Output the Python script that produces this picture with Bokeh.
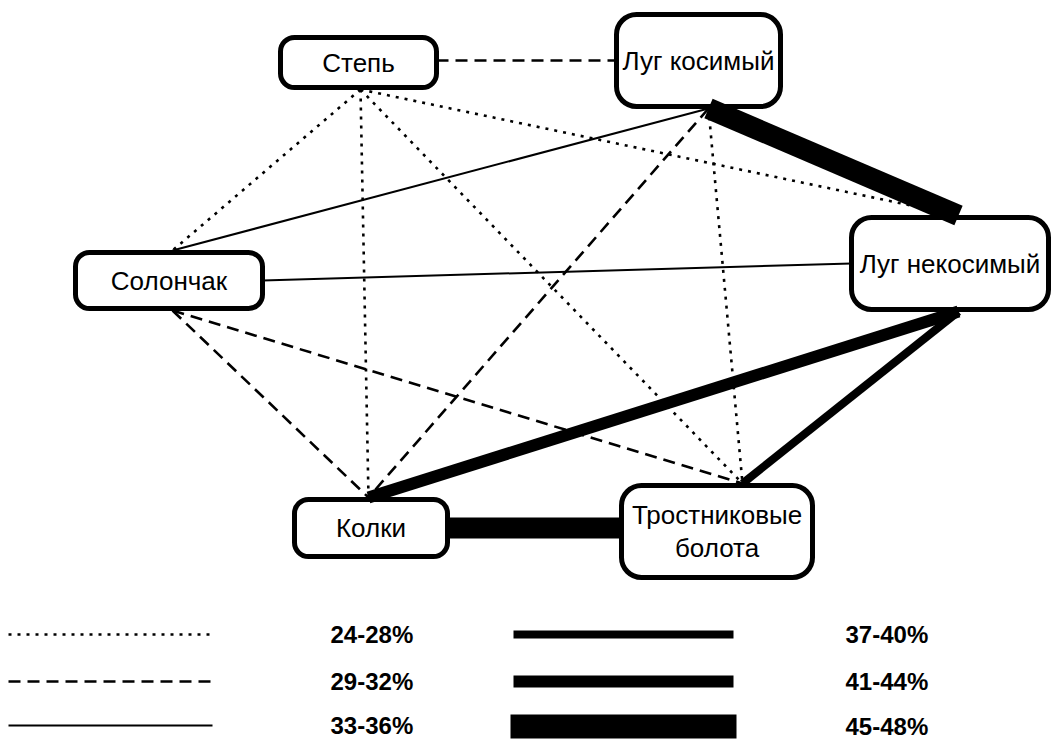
from bokeh.plotting import figure
from bokeh.models import Range1d, ColumnDataSource
from bokeh.embed import file_html
from bokeh.resources import INLINE
from bokeh.core.properties import value

# ---------------- data ----------------
nodes = ["Степь", "Луг косимый", "Солончак", "Луг некосимый", "Колки", "Тростниковые болота"]
node_labels = ["Степь", "Луг косимый", "Солончак", "Луг некосимый", "Колки", "Тростниковые\nболота"]

edge_source = ["Степь", "Степь", "Степь", "Степь", "Степь",
               "Луг косимый", "Луг косимый", "Луг косимый", "Луг косимый",
               "Солончак", "Солончак", "Солончак",
               "Луг некосимый", "Луг некосимый",
               "Колки"]
edge_target = ["Луг косимый", "Солончак", "Колки", "Тростниковые болота", "Луг некосимый",
               "Солончак", "Луг некосимый", "Колки", "Тростниковые болота",
               "Луг некосимый", "Колки", "Тростниковые болота",
               "Колки", "Тростниковые болота",
               "Тростниковые болота"]
edge_band = ["29-32%", "24-28%", "24-28%", "24-28%", "24-28%",
             "33-36%", "45-48%", "29-32%", "24-28%",
             "33-36%", "29-32%", "29-32%",
             "41-44%", "37-40%",
             "45-48%"]

bands = ["24-28%", "29-32%", "33-36%", "37-40%", "41-44%", "45-48%"]

# ---------------- layout & styles ----------------
# node boxes in page pixel coordinates (left, right, top, bottom), port x for vertical links
LAYOUT = {
    "Степь":               dict(l=280, r=436, t=37, b=87,  port=360, radius=14),
    "Луг косимый":         dict(l=616, r=780, t=14, b=106, port=708, radius=20),
    "Солончак":            dict(l=75,  r=262, t=252, b=308, port=172, radius=14),
    "Луг некосимый":       dict(l=851, r=1048, t=217, b=309, port=958, radius=20),
    "Колки":               dict(l=294, r=447, t=499, b=556, port=368, radius=14),
    "Тростниковые болота": dict(l=621, r=812, t=485, b=577, port=742, radius=20),
}
STYLE = {
    "24-28%": dict(line_width=2.6, line_dash="3 6"),
    "29-32%": dict(line_width=2.6, line_dash="12 7"),
    "33-36%": dict(line_width=2.0, line_dash="solid"),
    "37-40%": dict(line_width=8, line_dash="solid"),
    "41-44%": dict(line_width=12, line_dash="solid"),
    "45-48%": dict(line_width=21, line_dash="solid"),
}
LEGEND_POS = {  # band -> (line x0, line x1, label x, row y)
    "24-28%": (8, 212, 330, 634),
    "29-32%": (8, 212, 330, 681),
    "33-36%": (8, 212, 330, 725),
    "37-40%": (513, 733, 845, 634),
    "41-44%": (513, 733, 845, 681),
    "45-48%": (510, 736, 845, 726),
}
GAP = 2
FONT = value("Liberation Sans")
W, H = 1055, 740


def Y(y):
    return H - y


def ports(a, b):
    A, B = LAYOUT[a], LAYOUT[b]
    cya, cyb = (A["t"] + A["b"]) / 2, (B["t"] + B["b"]) / 2
    if abs(cya - cyb) < 40:
        if abs(cya - cyb) < 8:
            cya = cyb = min(cya, cyb)
        if A["l"] < B["l"]:
            return (A["r"], cya), (B["l"], cyb)
        return (A["l"], cya), (B["r"], cyb)
    if cya < cyb:
        return (A["port"], A["b"] + GAP), (B["port"], B["t"] - GAP)
    return (A["port"], A["t"] - GAP), (B["port"], B["b"] + GAP)


p = figure(width=W, height=H,
           x_range=Range1d(0, W), y_range=Range1d(0, H),
           output_backend="svg", toolbar_location=None, min_border=0,
           x_axis_location=None, y_axis_location=None)
p.grid.visible = False
p.outline_line_color = None
p.background_fill_color = "white"
p.border_fill_color = "white"

# node boxes
for n in nodes:
    L = LAYOUT[n]
    p.quad(left=[L["l"]], right=[L["r"]], top=[Y(L["t"])], bottom=[Y(L["b"])],
           fill_color="white", line_color="black", line_width=5,
           border_radius=L["radius"])

# edges, one call per band
for band in bands:
    x0, y0, x1, y1 = [], [], [], []
    for s, t, b in zip(edge_source, edge_target, edge_band):
        if b != band:
            continue
        (ax, ay), (bx, by) = ports(s, t)
        x0.append(ax); y0.append(Y(ay)); x1.append(bx); y1.append(Y(by))
    src = ColumnDataSource(dict(x0=x0, y0=y0, x1=x1, y1=y1))
    p.segment("x0", "y0", "x1", "y1", source=src, line_color="black",
              line_cap="butt", **STYLE[band])

# node labels
lx = [(LAYOUT[n]["l"] + LAYOUT[n]["r"]) / 2 for n in nodes]
ly = [Y((LAYOUT[n]["t"] + LAYOUT[n]["b"]) / 2) for n in nodes]
p.text(x=lx, y=ly, text=node_labels, text_font=FONT, text_font_size="26px",
       text_align="center", text_baseline="middle", text_color="black",
       text_line_height=1.1)

# legend
for band in bands:
    x0, x1, tx, ry = LEGEND_POS[band]
    lw = STYLE[band]["line_width"] + (3 if band == "45-48%" else 0)
    p.segment(x0=[x0], y0=[Y(ry)], x1=[x1], y1=[Y(ry)], line_color="black",
              line_cap="butt", line_width=lw, line_dash=STYLE[band]["line_dash"])
    p.text(x=[tx], y=[Y(ry)], text=[band], text_font=FONT, text_font_size="24px",
           text_font_style="bold", text_align="left", text_baseline="middle",
           text_color="black")

open("out.html", "w").write(file_html(p, INLINE))
